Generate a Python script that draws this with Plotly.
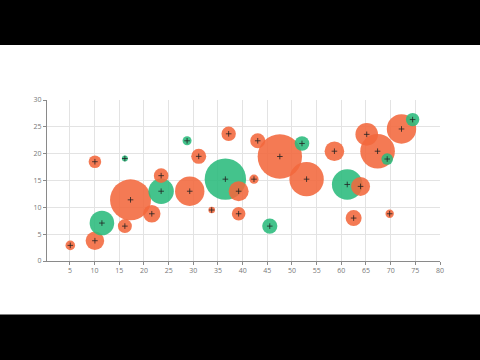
import plotly.graph_objects as go

# Bubble data (sorted by x so later points draw on top, as in the reference)
x_vals = [5.07, 10.06, 10.06, 11.48, 16.13, 16.13, 17.28, 21.59, 23.48, 23.48,
          28.74, 29.28, 31.1, 33.73, 36.5, 37.17, 39.19, 39.19, 42.3, 43.06,
          45.5, 47.54, 52.03, 52.96, 58.6, 61.2, 62.5, 63.9, 65.15, 67.35,
          69.3, 69.8, 72.2, 74.45]
y_vals = [2.91, 3.78, 18.5, 7.07, 19.1, 6.5, 11.4, 8.8, 13.0, 15.9,
          22.4, 13.0, 19.5, 9.5, 15.25, 23.7, 13.0, 8.8, 15.25, 22.4,
          6.5, 19.47, 21.9, 15.25, 20.46, 14.26, 8.0, 13.9, 23.6, 20.46,
          19.0, 8.8, 24.6, 26.35]
z_vals = [4.8, 9.3, 6.3, 12.3, 3.0, 7.0, 20.5, 8.7, 12.7, 7.3,
          4.5, 14.7, 7.5, 3.3, 20.7, 7.2, 10.0, 6.8, 4.6, 7.5,
          7.6, 22.2, 7.3, 17.2, 9.8, 15.3, 8.0, 9.5, 11.3, 17.3,
          5.8, 4.2, 14.7, 6.7]
groups = ["O", "O", "O", "G", "G", "O", "O", "O", "G", "O",
          "G", "O", "O", "O", "G", "O", "O", "O", "O", "O",
          "G", "O", "G", "O", "O", "G", "O", "O", "O", "O",
          "G", "O", "O", "G"]

x_ticks = list(range(5, 81, 5))
y_ticks = list(range(0, 31, 5))

palette = {"O": "rgb(243,104,60)", "G": "rgb(42,187,124)"}
colors = [palette[g] for g in groups]

fig = go.Figure()
fig.add_trace(go.Scatter(
    x=x_vals, y=y_vals, mode="markers",
    marker=dict(size=z_vals, sizemode="diameter", sizeref=0.5,
                color=colors, opacity=0.88, line=dict(width=0)),
    hoverinfo="skip", showlegend=False))
fig.add_trace(go.Scatter(
    x=x_vals, y=y_vals, mode="markers",
    marker=dict(symbol="cross-thin", size=4, color="#222",
                line=dict(width=0.8, color="#222")),
    hoverinfo="skip", showlegend=False))

axis_common = dict(
    showgrid=True, gridcolor="#e3e3e3", gridwidth=1,
    zeroline=False, showline=True, linecolor="#8a8a8a", linewidth=1,
    ticks="outside", ticklen=3, tickcolor="#8a8a8a",
    tickfont=dict(size=7, color="#777", family="Open Sans"),
)

fig.update_layout(
    width=480, height=360,
    margin=dict(l=47, r=40, t=100, b=99),
    paper_bgcolor="white", plot_bgcolor="white",
    xaxis=dict(range=[0.35, 80], tickvals=x_ticks, **axis_common),
    yaxis=dict(range=[0, 30], tickvals=y_ticks, **axis_common),
    shapes=[
        dict(type="rect", xref="paper", yref="paper", x0=-0.3, x1=1.3,
             y0=1.341, y1=1.8, fillcolor="black", line=dict(width=0), layer="above"),
        dict(type="rect", xref="paper", yref="paper", x0=-0.3, x1=1.3,
             y0=-0.8, y1=-0.333, fillcolor="black", line=dict(width=0), layer="above"),
    ],
)

fig.write_html("out.html", config={"displayModeBar": False},
               post_script="document.body.style.margin='0';document.body.style.overflow='hidden';")
